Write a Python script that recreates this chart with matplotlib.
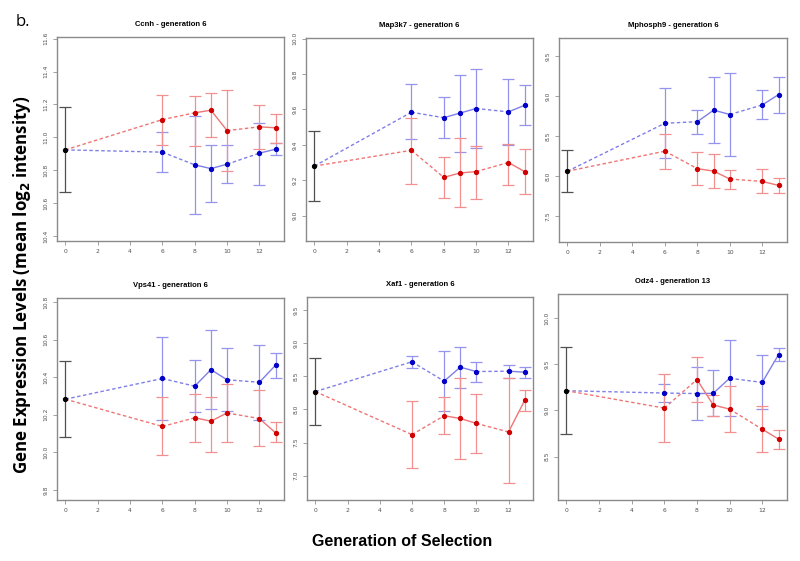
import matplotlib
matplotlib.use("Agg")
import matplotlib.pyplot as plt
import numpy as np

# generations measured after the start (gen 0 is the shared base line)
gens = [6, 8, 9, 10, 12, 13]

genes = ["Ccnh", "Map3k7", "Mphosph9", "Vps41", "Xaf1", "Odz4"]
titles = ["Ccnh - generation 6", "Map3k7 - generation 6", "Mphosph9 - generation 6",
          "Vps41 - generation 6", "Xaf1 - generation 6", "Odz4 - generation 13"]

# base (gen 0): mean, low, high
ccnh_base = [10.924, 10.667, 11.183]
ccnh_red = [11.108, 11.149, 11.165, 11.041, 11.064, 11.058]
ccnh_red_lo = [10.952, 10.950, 11.000, 10.797, 10.932, 10.966]
ccnh_red_hi = [11.260, 11.250, 11.272, 11.286, 11.195, 11.145]
ccnh_blue = [10.910, 10.833, 10.810, 10.837, 10.904, 10.928]
ccnh_blue_lo = [10.790, 10.535, 10.610, 10.720, 10.713, 10.892]
ccnh_blue_hi = [11.030, 11.130, 10.956, 10.956, 11.088, 10.966]

map3k7_base = [9.280, 9.081, 9.479]
map3k7_red = [9.369, 9.216, 9.241, 9.249, 9.300, 9.249]
map3k7_red_lo = [9.181, 9.100, 9.048, 9.096, 9.173, 9.120]
map3k7_red_hi = [9.553, 9.334, 9.437, 9.396, 9.404, 9.374]
map3k7_blue = [9.584, 9.553, 9.579, 9.605, 9.586, 9.623]
map3k7_blue_lo = [9.431, 9.439, 9.361, 9.382, 9.400, 9.514]
map3k7_blue_hi = [9.743, 9.669, 9.796, 9.828, 9.772, 9.739]

mphosph9_base = [8.058, 7.796, 8.330]
mphosph9_red = [8.31, 8.09, 8.06, 7.96, 7.93, 7.88]
mphosph9_red_lo = [8.08, 7.88, 7.85, 7.84, 7.78, 7.79]
mphosph9_red_hi = [8.53, 8.30, 8.28, 8.075, 8.08, 7.975]
mphosph9_blue = [8.66, 8.68, 8.825, 8.77, 8.89, 9.02]
mphosph9_blue_lo = [8.22, 8.53, 8.41, 8.25, 8.71, 8.79]
mphosph9_blue_hi = [9.10, 8.83, 9.24, 9.29, 9.075, 9.24]

vps41_base = [10.283, 10.083, 10.485]
vps41_red = [10.138, 10.184, 10.166, 10.210, 10.180, 10.104]
vps41_red_lo = [9.986, 10.053, 10.000, 10.057, 10.034, 10.053]
vps41_red_hi = [10.292, 10.310, 10.292, 10.363, 10.331, 10.163]
vps41_blue = [10.393, 10.352, 10.440, 10.386, 10.373, 10.464]
vps41_blue_lo = [10.173, 10.216, 10.232, 10.218, 10.170, 10.393]
vps41_blue_hi = [10.616, 10.490, 10.650, 10.556, 10.572, 10.531]

xaf1_base = [8.27, 7.77, 8.78]
xaf1_red = [7.620, 7.905, 7.864, 7.790, 7.660, 8.136]
xaf1_red_lo = [7.116, 7.623, 7.250, 7.340, 6.884, 7.980]
xaf1_red_hi = [8.130, 8.186, 8.470, 8.236, 8.480, 8.290]
xaf1_blue = [8.720, 8.427, 8.638, 8.573, 8.578, 8.563]
xaf1_blue_lo = [8.620, 7.970, 8.330, 8.420, 8.482, 8.472]
xaf1_blue_hi = [8.810, 8.884, 8.950, 8.720, 8.668, 8.648]

odz4_base = [9.213, 8.747, 9.682]
odz4_red = [9.025, 9.334, 9.058, 9.014, 8.796, 8.690]
odz4_red_lo = [8.660, 9.094, 8.942, 8.762, 8.552, 8.581]
odz4_red_hi = [9.390, 9.576, 9.170, 9.267, 9.047, 8.790]
odz4_blue = [9.188, 9.182, 9.185, 9.348, 9.303, 9.603]
odz4_blue_lo = [9.090, 8.900, 8.942, 8.942, 9.020, 9.538]
odz4_blue_hi = [9.285, 9.475, 9.442, 9.758, 9.600, 9.678]

ylims = [(10.37, 11.61), (8.857, 10.003), (7.17, 9.73),
         (9.747, 10.821), (6.633, 9.698), (8.03, 10.26)]
yticks = [np.arange(10.4, 11.61, 0.2), np.arange(9.0, 10.01, 0.2), np.arange(7.5, 9.51, 0.5),
          np.arange(9.8, 10.81, 0.2), np.arange(7.0, 9.51, 0.5), np.arange(8.5, 10.01, 0.5)]

panel_data = [
    (ccnh_base, ccnh_red, ccnh_red_lo, ccnh_red_hi, ccnh_blue, ccnh_blue_lo, ccnh_blue_hi),
    (map3k7_base, map3k7_red, map3k7_red_lo, map3k7_red_hi, map3k7_blue, map3k7_blue_lo, map3k7_blue_hi),
    (mphosph9_base, mphosph9_red, mphosph9_red_lo, mphosph9_red_hi, mphosph9_blue, mphosph9_blue_lo, mphosph9_blue_hi),
    (vps41_base, vps41_red, vps41_red_lo, vps41_red_hi, vps41_blue, vps41_blue_lo, vps41_blue_hi),
    (xaf1_base, xaf1_red, xaf1_red_lo, xaf1_red_hi, xaf1_blue, xaf1_blue_lo, xaf1_blue_hi),
    (odz4_base, odz4_red, odz4_red_lo, odz4_red_hi, odz4_blue, odz4_blue_lo, odz4_blue_hi),
]

W, H = 800, 561
# panel boxes in pixels: left, top, right, bottom
boxes = [(57, 37, 284, 241), (306, 38, 533, 241), (559, 38, 787, 242),
         (57, 298, 284, 500), (307, 297, 533, 500), (558, 294, 787, 500)]


def draw_series(ax, base, means, lo, hi, line_c, bar_c, pt_c):
    xs = [0] + gens
    ys = [base[0]] + list(means)
    # solid between consecutive generations, dashed across gaps
    for i in range(len(xs) - 1):
        ls = '-' if xs[i + 1] - xs[i] == 1 else (0, (2.5, 1.8))
        ax.plot(xs[i:i + 2], ys[i:i + 2], color=line_c, lw=1.0, linestyle=ls, zorder=2)
    means = np.array(means)
    yerr = [means - np.array(lo), np.array(hi) - means]
    ax.errorbar(gens, means, yerr=yerr, fmt='none', ecolor=bar_c, elinewidth=0.9,
                capsize=4.2, capthick=0.9, zorder=3)
    ax.plot(gens, means, 'o', color=pt_c, markersize=2.8, zorder=4)


fig = plt.figure(figsize=(W / 100, H / 100), dpi=100)

for k, (l, t, r, b) in enumerate(boxes):
    ax = fig.add_axes([l / W, 1 - b / H, (r - l) / W, (b - t) / H])
    base, red, red_lo, red_hi, blue, blue_lo, blue_hi = panel_data[k]
    draw_series(ax, base, blue, blue_lo, blue_hi, '#7f7fe8', '#9494ee', '#0000c8')
    draw_series(ax, base, red, red_lo, red_hi, '#ef7575', '#f29090', '#d00000')
    # generation 0 base bar
    ax.errorbar([0], [base[0]], yerr=[[base[0] - base[1]], [base[2] - base[0]]], fmt='o',
                color='black', ecolor='#505050', elinewidth=0.9, capsize=4.2, capthick=0.9,
                markersize=2.8, zorder=5)

    ax.set_xlim(-0.52, 13.52)
    ax.set_ylim(*ylims[k])
    ax.set_xticks(range(0, 13, 2))
    ax.set_yticks(yticks[k])
    ax.set_yticklabels([f"{v:.1f}" for v in yticks[k]], rotation=90, va='center')
    ax.tick_params(labelsize=4.3, labelcolor='#505050', color='#909090', length=3, width=0.6,
                   direction='out', pad=3)
    for s in ax.spines.values():
        s.set_color('#8a8a8a')
        s.set_linewidth(1.0)
    ax.set_title(titles[k], fontsize=5.5, fontweight='bold', pad=8, family='Liberation Sans')

fig.text(23 / W, 1 - 22 / H, "b.", fontsize=12, ha='center', va='center', family='Open Sans')
fig.text(22 / W, 1 - 285 / H, "Gene Expression Levels (mean log$_\\mathbf{2}$ intensity)",
         rotation=90, fontsize=12.2, fontweight='bold', ha='center', va='center', family='Open Sans')
fig.text(402 / W, 1 - 542 / H, "Generation of Selection", fontsize=11.5, fontweight='bold',
         ha='center', va='center', family='Liberation Sans')

fig.savefig("out.png", dpi=100)
